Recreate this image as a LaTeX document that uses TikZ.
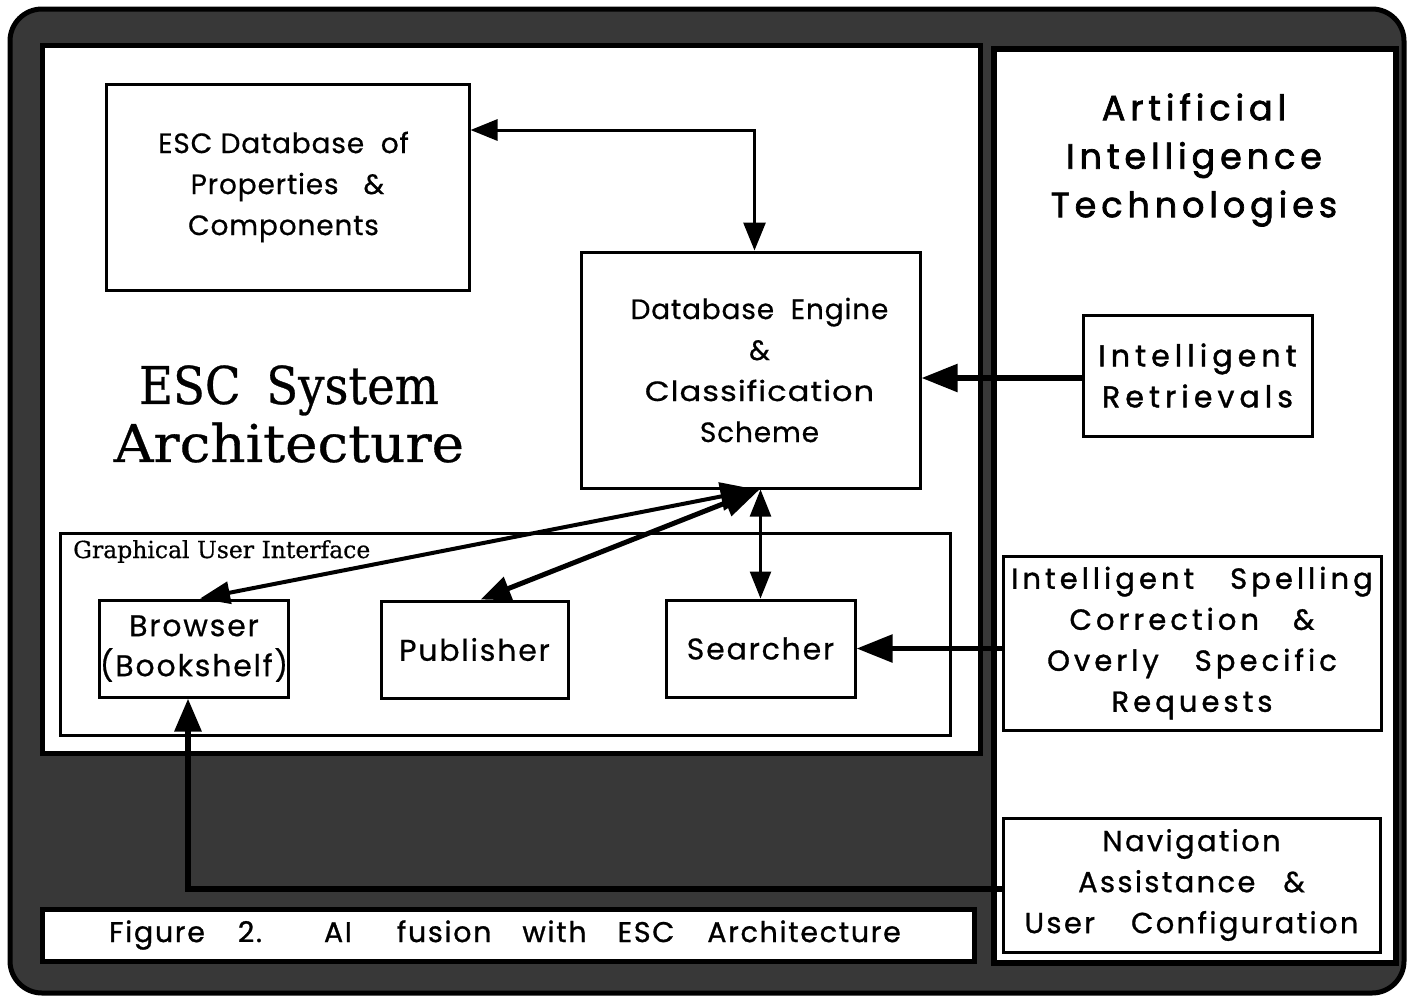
\documentclass[tikz,border=0pt]{standalone}
\usepackage{fontspec}
\setmainfont{Poppins}
\newfontfamily\serifx[FakeBold=0.6]{DejaVu Serif}
\newfontfamily\boxfam[LetterSpace=3,FakeBold=0.5]{Poppins}
\newfontfamily\guifam[LetterSpace=6,FakeBold=0.5]{Poppins}
\newfontfamily\headfam[LetterSpace=14,FakeBold=2]{Poppins}
\newfontfamily\retfam[LetterSpace=17,FakeBold=1.4]{Poppins}
\newfontfamily\spellfam[LetterSpace=14,FakeBold=1.2]{Poppins}
\newfontfamily\navfam[LetterSpace=8,FakeBold=0.8]{Poppins}
\newfontfamily\capfam[LetterSpace=6,FakeBold=1]{Poppins}
\usetikzlibrary{arrows.meta}
\definecolor{halftone}{gray}{0.22}
\tikzset{
  box/.style={draw, line width=3pt, fill=white, inner sep=0pt, align=center,
    font=\boxfam\fontsize{28}{41}\selectfont},
  guibox/.style={box, font=\guifam\fontsize{30}{40}\selectfont},
  panel/.style={draw, line width=5pt, fill=white},
  thinlink/.style={line width=2.5pt, {Triangle[length=27pt,width=21pt]}-{Triangle[length=27pt,width=21pt]}},
  slantlink/.style={line width=4pt, {Triangle[length=30pt,width=22pt]}-{Triangle[length=36pt,width=28pt]}},
  ailink/.style={line width=5.5pt, -{Triangle[length=36pt,width=27pt]}}
}
\begin{document}
\begin{tikzpicture}[x=1pt,y=-1pt]
\useasboundingbox (0,0) rectangle (1407,997);

% frame and panels
\draw[line width=5pt, fill=halftone, rounded corners=32pt] (10,9) rectangle (1404,993);
\draw[panel] (42,45) rectangle (980,753);
\draw[panel, line width=6pt] (994,49) rectangle (1396,963);
\draw[panel] (42,909) rectangle (974,961);

% left panel
\node[box, minimum width=363pt, minimum height=206pt] (db) at (287.5,187)
  {ESC\ Database\ \ of\hspace*{8pt}\\Properties\ \ \ \&\hspace*{8pt}\\Components\hspace*{8pt}};
\node[box, minimum width=339pt, minimum height=236pt] (eng) at (750.5,370)
  {\hspace*{18pt}Database\ \ Engine\\\hspace*{18pt}\&\\\hspace*{18pt}\scalebox{1.15}[1]{Classification}\\\hspace*{18pt}Scheme};
\node[font=\serifx\fontsize{52}{58}\selectfont, align=center] (title) at (289,414)
  {\resizebox{300pt}{\height}{ESC\hspace{0.55em}System}\\\resizebox{350pt}{\height}{Architecture}};

\node[draw, line width=3pt, minimum width=890pt, minimum height=202pt, inner sep=0pt] (gui) at (505,634) {};
\node[anchor=base west, inner sep=0pt, font=\serifx\fontsize{23.5}{26}\selectfont] (guilabel) at (73,558)
  {Graphical User Interface};
\node[guibox, minimum width=188pt, minimum height=97pt] (brw) at (194,648.5) {Browser\\(Bookshelf)};
\node[guibox, minimum width=187pt, minimum height=97pt] (pub) at (474.5,649.5) {Publisher};
\node[guibox, minimum width=189pt, minimum height=97pt] (srch) at (760.5,648.5) {Searcher};

% right panel
\node[font=\headfam\fontsize{35}{48.5}\selectfont, align=center] (ai) at (1194,160)
  {Artificial\\Intelligence\\Technologies};
\node[box, minimum width=229pt, minimum height=121pt, font=\retfam\fontsize{30}{41}\selectfont] (ret) at (1197.5,375.5)
  {Intelligent\\Retrievals};
\node[box, minimum width=378pt, minimum height=174pt, font=\spellfam\fontsize{29}{41}\selectfont] (spell) at (1192,643)
  {Intelligent\hspace{36pt}Spelling\\Correction\hspace{34pt}\&\\Overly\hspace{36pt}Specific\\Requests};
\node[box, minimum width=377pt, minimum height=134pt, font=\navfam\fontsize{29}{41}\selectfont] (nav) at (1191.5,885)
  {Navigation\\Assistance\hspace{28pt}\&\\User\hspace{36pt}Configuration};

% caption
\node[font=\capfam\fontsize{28.5}{30}\selectfont, inner sep=0pt] (cap) at (505,935)
  {Figure\hspace{33pt}2.\hspace{62pt}AI\hspace{45pt}fusion\hspace{31pt}with\hspace{31pt}ESC\hspace{33pt}Architecture};

% connectors
\draw[line width=3pt, {Triangle[length=27pt,width=21pt]}-{Triangle[length=28pt,width=22pt]}]
  (db.east |- 0,130) -| ([xshift=4pt]eng.north);
\draw[slantlink] ([xshift=6pt]brw.north) -- ([xshift=6pt]eng.south);
\draw[line width=5pt, {Triangle[length=30pt,width=24pt]}-{Triangle[length=36pt,width=28pt]}]
  ([xshift=6pt]pub.north) -- ([xshift=9pt]eng.south);
\draw[thinlink] (srch.north) -- (srch.north |- eng.south);
\draw[ailink] (ret.west |- 0,378) -- (eng.east |- 0,378);
\draw[ailink] (srch.east -| spell.west) -- (srch.east);
\draw[line width=6pt, -{Triangle[length=33pt,width=26pt]}]
  (nav.west |- 0,889) -| ([xshift=-6pt]brw.south);
\end{tikzpicture}
\end{document}
